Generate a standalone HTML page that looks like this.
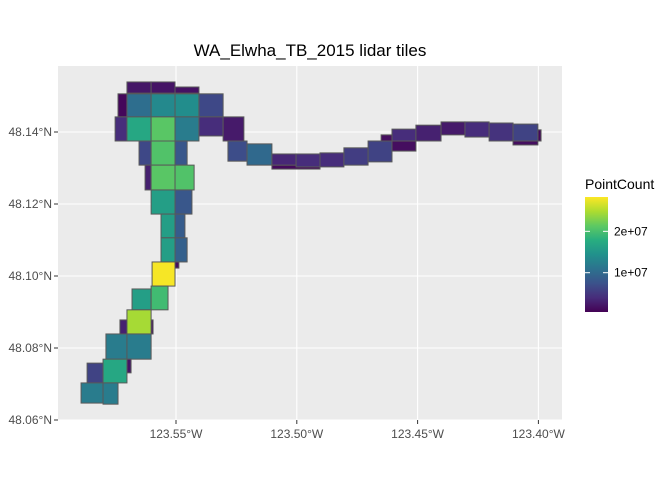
<!DOCTYPE html>
<html><head><meta charset="utf-8"><style>
body{margin:0;background:#fff;font-family:"Liberation Sans",sans-serif}
svg text{font-family:"Liberation Sans",sans-serif}
</style></head><body>
<svg id="chart" width="672" height="480" xmlns="http://www.w3.org/2000/svg">
<rect width="672" height="480" fill="#fff"/>
<text x="310" y="56" font-size="17" text-anchor="middle" fill="#000">WA_Elwha_TB_2015 lidar tiles</text>
<rect x="58" y="66" width="504" height="354" fill="#ebebeb"/>
<g id="grid"></g><g id="tiles"></g><g id="axes"></g>
<defs><linearGradient id="vir" x1="0" y1="1" x2="0" y2="0">
<stop offset="0" stop-color="#440154"/><stop offset="0.125" stop-color="#472d7b"/><stop offset="0.25" stop-color="#3b528b"/><stop offset="0.375" stop-color="#2c728e"/><stop offset="0.5" stop-color="#21918c"/><stop offset="0.625" stop-color="#28ae80"/><stop offset="0.75" stop-color="#5ec962"/><stop offset="0.875" stop-color="#addc30"/><stop offset="1" stop-color="#fde725"/></linearGradient></defs>
<text x="585" y="189" font-size="14" fill="#000">PointCount</text>
<rect x="585" y="197" width="23" height="115" fill="url(#vir)"/>
<g id="legend"></g>
</svg>
<script>
const lonTicks=[-123.55,-123.50,-123.45,-123.40];
const lonTickLabels=["123.55°W","123.50°W","123.45°W","123.40°W"];
const latTicks=[48.06,48.08,48.10,48.12,48.14];
const latTickLabels=["48.06°N","48.08°N","48.10°N","48.12°N","48.14°N"];
const legendTicks=[10,20];
const legendLabels=["1e+07","2e+07"];
const tileWest=[-123.5703,-123.5603,-123.5504,-123.5740,-123.5703,-123.5603,-123.5504,-123.5405,-123.5752,-123.5703,-123.5603,-123.5504,-123.5405,-123.5305,-123.5285,-123.5206,-123.5653,-123.5603,-123.5504,-123.5628,-123.5603,-123.5504,-123.5603,-123.5504,-123.5562,-123.5504,-123.5562,-123.5504,-123.5504,-123.5599,-123.5682,-123.5603,-123.5732,-123.5603,-123.5703,-123.5790,-123.5703,-123.5703,-123.5868,-123.5802,-123.5893,-123.5802,-123.5103,-123.5103,-123.5003,-123.4904,-123.4805,-123.4705,-123.4651,-123.4606,-123.4606,-123.4507,-123.4403,-123.4304,-123.4204,-123.4105,-123.4002,-123.4105];
const tileEast=[-123.5603,-123.5504,-123.5405,-123.5703,-123.5603,-123.5504,-123.5405,-123.5305,-123.5703,-123.5603,-123.5504,-123.5405,-123.5305,-123.5219,-123.5206,-123.5103,-123.5603,-123.5504,-123.5454,-123.5603,-123.5504,-123.5425,-123.5504,-123.5434,-123.5504,-123.5463,-123.5504,-123.5454,-123.5488,-123.5504,-123.5603,-123.5533,-123.5703,-123.5595,-123.5603,-123.5703,-123.5603,-123.5686,-123.5802,-123.5703,-123.5802,-123.5740,-123.4904,-123.5003,-123.4904,-123.4805,-123.4705,-123.4606,-123.4606,-123.4507,-123.4507,-123.4403,-123.4304,-123.4204,-123.4105,-123.4002,-123.3989,-123.4002];
const tileSouth=[48.1508,48.1508,48.1508,48.1442,48.1442,48.1442,48.1442,48.1442,48.1375,48.1375,48.1375,48.1375,48.1389,48.1375,48.1319,48.1308,48.1308,48.1308,48.1308,48.1239,48.1239,48.1239,48.1172,48.1172,48.1106,48.1106,48.1039,48.1039,48.1022,48.0972,48.0906,48.0906,48.0839,48.0839,48.0839,48.0769,48.0769,48.0731,48.0703,48.0703,48.0647,48.0644,48.1297,48.1308,48.1303,48.1303,48.1308,48.1317,48.1375,48.1347,48.1375,48.1375,48.1392,48.1386,48.1375,48.1364,48.1375,48.1375];
const tileNorth=[48.1539,48.1539,48.1525,48.1506,48.1506,48.1506,48.1506,48.1506,48.1442,48.1442,48.1442,48.1442,48.1442,48.1442,48.1375,48.1367,48.1375,48.1375,48.1375,48.1308,48.1308,48.1308,48.1239,48.1239,48.1172,48.1172,48.1106,48.1106,48.1039,48.1039,48.0964,48.0972,48.0878,48.0878,48.0906,48.0839,48.0839,48.0769,48.0758,48.0769,48.0703,48.0703,48.1308,48.1339,48.1339,48.1342,48.1356,48.1375,48.1392,48.1375,48.1408,48.1419,48.1428,48.1428,48.1425,48.1375,48.1406,48.1422];
const tilePoints=[2.2,2.0,1.8,1.0,10.5,13.5,14.0,6.5,4,17,21,12,4,2.5,7,10,6.5,20.5,8,3,21,20.5,16,8,16,8.5,16,9,1.5,28,16,19.5,3,1.5,24.5,12,12,2,6,17,12,12,1.2,3.5,4,4,5.5,6,1.5,1.5,4,3,2.5,4,4.5,1.5,1,6];
const X0=58,X1=562,Y0=66,Y1=420;
const xs=lon=>176+(lon+123.55)*2416;
const ys=lat=>132-(lat-48.14)*3600;
const vMin=0.5,vMax=28.3;
const legY=v=>312-(v-vMin)/(vMax-vMin)*115;
const stops=[[68,1,84],[71,45,123],[59,82,139],[44,114,142],[33,145,140],[40,174,128],[94,201,98],[173,220,48],[253,231,37]];
function vir(v){let t=Math.max(0,Math.min(1,(v-vMin)/(vMax-vMin)))*8;let i=Math.min(7,Math.floor(t)),f=t-i;const a=stops[i],b=stops[i+1];return `rgb(${a.map((c,k)=>Math.round(c+(b[k]-c)*f)).join(',')})`;}
const NS="http://www.w3.org/2000/svg";
function mk(t,at,p){const e=document.createElementNS(NS,t);for(const k in at)e.setAttribute(k,at[k]);p.appendChild(e);return e;}
const grid=document.getElementById('grid'),tiles=document.getElementById('tiles'),axes=document.getElementById('axes'),leg=document.getElementById('legend');
lonTicks.forEach((v,i)=>{const x=xs(v);
const g=mk('line',{x1:x,x2:x,y1:Y0,y2:Y1,stroke:'#fff','stroke-width':1.1},grid);


mk('line',{x1:x,x2:x,y1:Y1,y2:Y1+4,stroke:'#333'},axes);
const t=mk('text',{x:x,y:Y1+18,'font-size':12,'text-anchor':'middle',fill:'#4d4d4d'},axes);t.textContent=lonTickLabels[i];

});
latTicks.forEach((v,i)=>{const y=ys(v);
const g=mk('line',{x1:X0,x2:X1,y1:y,y2:y,stroke:'#fff','stroke-width':1.1},grid);


mk('line',{x1:X0-4,x2:X0,y1:y,y2:y,stroke:'#333'},axes);
const t=mk('text',{x:X0-6,y:y+4,'font-size':12,'text-anchor':'end',fill:'#4d4d4d'},axes);t.textContent=latTickLabels[i];

});
tileWest.forEach((w,i)=>{const x=xs(w),x2=xs(tileEast[i]),y=ys(tileNorth[i]),y2=ys(tileSouth[i]);
const r=mk('rect',{x:x,y:y,width:x2-x,height:y2-y,fill:vir(tilePoints[i]),stroke:'#595959','stroke-width':1},tiles);

});
legendTicks.forEach((v,i)=>{const y=legY(v);
mk('line',{x1:585,x2:590,y1:y,y2:y,stroke:'#fff'},leg);
mk('line',{x1:603,x2:608,y1:y,y2:y,stroke:'#fff'},leg);
const t=mk('text',{x:614,y:y+4,'font-size':12,fill:'#000'},leg);t.textContent=legendLabels[i];

});
</script>
</body></html>
